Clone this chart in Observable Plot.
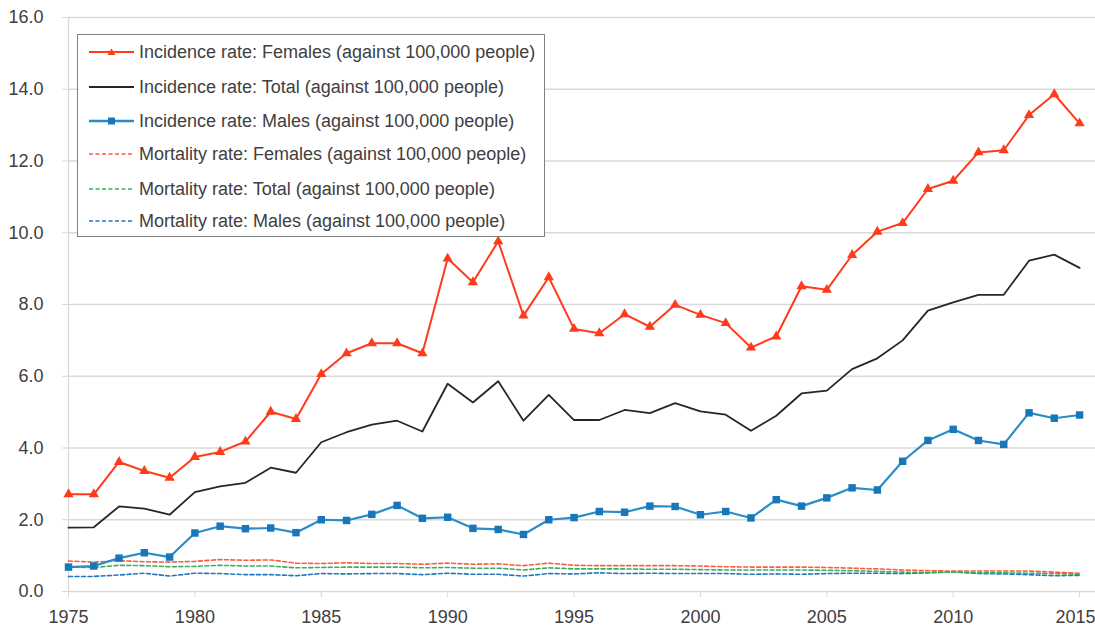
<!DOCTYPE html>
<html>
<head>
<meta charset="utf-8">
<script src="https://cdn.jsdelivr.net/npm/d3@7"></script>
<script src="https://cdn.jsdelivr.net/npm/@observablehq/plot@0.6"></script>
<style>
  html, body { margin: 0; padding: 0; background: #fff; overflow: hidden; }
  #wrap { position: relative; width: 1095px; height: 630px; }
  #legend {
    position: absolute; left: 77px; top: 34px; width: 466px; height: 201px;
    border: 1.5px solid #7f7f7f; background: #fff; box-sizing: content-box;
    font-family: "Liberation Sans", Arial, sans-serif; font-size: 18px; color: #404040;
  }
  .row { position: absolute; left: 11px; height: 34px; display: flex; align-items: center; white-space: nowrap; }
  .row svg { margin-right: 5px; flex: none; }
</style>
</head>
<body>
<div id="wrap"><div id="chart"></div><div id="legend"></div></div>
<script>
const years = [1975,1976,1977,1978,1979,1980,1981,1982,1983,1984,1985,1986,1987,1988,1989,1990,1991,1992,1993,1994,1995,1996,1997,1998,1999,2000,2001,2002,2003,2004,2005,2006,2007,2008,2009,2010,2011,2012,2013,2014,2015];

const incidenceFemales = [2.71,2.71,3.61,3.36,3.17,3.75,3.89,4.18,5.01,4.81,6.06,6.64,6.92,6.92,6.64,9.28,8.62,9.76,7.69,8.76,7.32,7.2,7.73,7.38,7.99,7.71,7.48,6.8,7.11,8.51,8.41,9.38,10.03,10.27,11.22,11.45,12.24,12.3,13.28,13.86,13.05];
const incidenceTotal   = [1.78,1.79,2.37,2.31,2.14,2.77,2.93,3.03,3.45,3.31,4.16,4.44,4.65,4.76,4.46,5.79,5.27,5.86,4.76,5.48,4.78,4.78,5.06,4.97,5.25,5.02,4.93,4.48,4.9,5.52,5.6,6.2,6.5,7.0,7.83,8.06,8.27,8.27,9.22,9.39,9.02];
const incidenceMales   = [0.68,0.71,0.93,1.08,0.96,1.63,1.82,1.75,1.77,1.64,2.0,1.98,2.15,2.4,2.04,2.07,1.76,1.73,1.59,2.0,2.06,2.23,2.21,2.38,2.37,2.14,2.23,2.05,2.56,2.38,2.61,2.89,2.83,3.63,4.21,4.52,4.21,4.1,4.98,4.83,4.92];
const mortalityFemales = [0.85,0.82,0.86,0.83,0.82,0.84,0.89,0.87,0.88,0.79,0.78,0.8,0.78,0.78,0.76,0.79,0.76,0.77,0.72,0.79,0.73,0.72,0.72,0.72,0.72,0.71,0.69,0.68,0.68,0.68,0.67,0.65,0.63,0.6,0.58,0.57,0.57,0.57,0.57,0.54,0.51];
const mortalityTotal   = [0.68,0.67,0.73,0.72,0.69,0.7,0.73,0.71,0.71,0.66,0.67,0.68,0.68,0.68,0.66,0.67,0.65,0.65,0.6,0.66,0.63,0.63,0.63,0.62,0.62,0.61,0.6,0.6,0.6,0.6,0.59,0.58,0.56,0.54,0.53,0.54,0.52,0.52,0.51,0.5,0.48];
const mortalityMales   = [0.42,0.42,0.46,0.51,0.43,0.51,0.5,0.47,0.47,0.44,0.5,0.49,0.5,0.5,0.47,0.51,0.48,0.48,0.43,0.5,0.49,0.52,0.5,0.51,0.5,0.5,0.5,0.48,0.49,0.48,0.5,0.51,0.51,0.5,0.52,0.55,0.5,0.49,0.47,0.44,0.45];

const seriesNames = [
  "Incidence rate: Females (against 100,000 people)",
  "Incidence rate: Total (against 100,000 people)",
  "Incidence rate: Males (against 100,000 people)",
  "Mortality rate: Females (against 100,000 people)",
  "Mortality rate: Total (against 100,000 people)",
  "Mortality rate: Males (against 100,000 people)"
];
const xTicks = [1975,1980,1985,1990,1995,2000,2005,2010,2015];
const yTicks = [0,2,4,6,8,10,12,14,16];

const C = {
  incF: "#ff3b1c", incT: "#262626", incM: "#2a8cc8", incMdot: "#1677bb",
  morF: "#ff5a3c", morT: "#3aae62", morM: "#2277c0"
};

const toRows = vals => years.map((y, i) => ({year: y, value: vals[i]}));
const dIncF = toRows(incidenceFemales), dIncT = toRows(incidenceTotal), dIncM = toRows(incidenceMales);
const dMorF = toRows(mortalityFemales), dMorT = toRows(mortalityTotal), dMorM = toRows(mortalityMales);

const lastTick = xTicks[xTicks.length - 1];
const font = "Liberation Sans, Arial, sans-serif";
const chart = Plot.plot({
  width: 1095, height: 630,
  marginLeft: 68, marginRight: 0, marginTop: 17, marginBottom: 39,
  style: {fontFamily: font, fontSize: "18px", color: "#404040", background: "#fff", overflow: "visible"},
  x: {domain: [1975, 2015.63], axis: null},
  y: {domain: [0, 16], axis: null},
  marks: [
    Plot.gridY(yTicks.filter(d => d > 0), {stroke: "#d9d9d9", strokeOpacity: 1, strokeWidth: 1.3}),
    Plot.ruleX([1975], {stroke: "#d9d9d9", strokeWidth: 1.3}),
    Plot.ruleY([0], {stroke: "#d9d9d9", strokeWidth: 1.3}),
    Plot.axisY({ticks: yTicks, tickSize: 6, tickPadding: 19, tickFormat: d => d.toFixed(1), stroke: "#d9d9d9", fill: "#404040", label: null}),
    Plot.axisX({ticks: xTicks, tickSize: 6, tickPadding: 13, tickFormat: d => d === lastTick ? "" : String(d), stroke: "#d9d9d9", fill: "#404040", label: null}),
    Plot.axisX({ticks: [lastTick], tickSize: 0, tickPadding: 19, dx: -4, tickFormat: d => String(d), fill: "#404040", label: null}),
    Plot.line(dMorM, {x: "year", y: "value", stroke: C.morM, strokeWidth: 1.6, strokeDasharray: "4,2.5"}),
    Plot.line(dMorT, {x: "year", y: "value", stroke: C.morT, strokeWidth: 1.6, strokeDasharray: "4,2.5"}),
    Plot.line(dMorF, {x: "year", y: "value", stroke: C.morF, strokeWidth: 1.6, strokeDasharray: "4,2.5"}),
    Plot.line(dIncM, {x: "year", y: "value", stroke: C.incM, strokeWidth: 2.2}),
    Plot.dot(dIncM, {x: "year", y: "value", symbol: "square", r: 4.2, fill: C.incMdot, stroke: null}),
    Plot.line(dIncT, {x: "year", y: "value", stroke: C.incT, strokeWidth: 1.8}),
    Plot.line(dIncF, {x: "year", y: "value", stroke: C.incF, strokeWidth: 2}),
    Plot.dot(dIncF, {x: "year", y: "value", symbol: "triangle", r: 3.8, fill: C.incF, stroke: null})
  ]
});
document.getElementById("chart").append(chart);

// legend
const swatches = [
  `<line x1="0" y1="6" x2="45" y2="6" stroke="${C.incF}" stroke-width="2"/><path d="M22.5,2.5 L26.5,9 L18.5,9 Z" fill="${C.incF}"/>`,
  `<line x1="0" y1="6" x2="45" y2="6" stroke="${C.incT}" stroke-width="1.8"/>`,
  `<line x1="0" y1="6" x2="45" y2="6" stroke="${C.incM}" stroke-width="2.5"/><rect x="19" y="2.5" width="7" height="7" fill="${C.incMdot}"/>`,
  `<line x1="0" y1="6" x2="45" y2="6" stroke="${C.morF}" stroke-width="1.6" stroke-dasharray="4,2.5"/>`,
  `<line x1="0" y1="6" x2="45" y2="6" stroke="${C.morT}" stroke-width="1.6" stroke-dasharray="4,2.5"/>`,
  `<line x1="0" y1="6" x2="45" y2="6" stroke="${C.morM}" stroke-width="1.6" stroke-dasharray="4,2.5"/>`
];
const rowTops = [0, 35, 69, 102, 137, 169];
const legend = document.getElementById("legend");
seriesNames.forEach((name, i) => {
  const row = document.createElement("div");
  row.className = "row";
  row.style.top = rowTops[i] + "px";
  row.innerHTML = `<svg width="45" height="12">${swatches[i]}</svg><span>${name}</span>`;
  legend.append(row);
});
</script>
</body>
</html>
